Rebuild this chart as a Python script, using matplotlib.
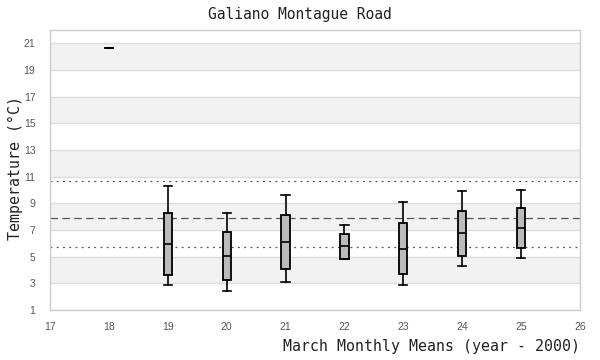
import matplotlib
matplotlib.use("Agg")
import matplotlib.pyplot as plt

# Data
years = [18, 19, 20, 21, 22, 23, 24, 25]
whislo = [20.63, 2.85, 2.40, 3.08, 4.80, 2.85, 4.28, 4.88]
q1     = [20.63, 3.60, 3.23, 4.05, 4.83, 3.68, 5.03, 5.63]
med    = [20.63, 5.93, 5.03, 6.08, 5.78, 5.55, 6.78, 7.13]
q3     = [20.63, 8.25, 6.83, 8.10, 6.68, 7.50, 8.40, 8.63]
whishi = [20.63, 10.30, 8.25, 9.60, 7.35, 9.08, 9.90, 9.98]

mean_line = 7.90
lower_line = 5.72
upper_line = 10.65

title = "Galiano Montague Road"
xlabel = "March Monthly Means (year - 2000)"
ylabel = "Temperature (\u00b0C)"
xticks = list(range(17, 27))
yticks = list(range(1, 22, 2))

fig = plt.figure(figsize=(6, 3.6), dpi=100)
ax = fig.add_axes([50/600, 1-310/360, 530/600, 280/360])

ax.set_xlim(17, 26)
ax.set_ylim(1, 22)

# alternating bands
for i, y0 in enumerate(range(1, 22, 2)):
    if i % 2 == 1:
        ax.axhspan(y0, min(y0 + 2, 22), color="#f2f2f2", zorder=0, lw=0)
for y in yticks:
    ax.axhline(y, color="#dddddd", lw=1, zorder=0.5)

ax.axhline(upper_line, color="#555555", lw=0.9, ls=(0, (1.5, 3.5)), zorder=1)
ax.axhline(lower_line, color="#555555", lw=0.9, ls=(0, (1.5, 3.5)), zorder=1)
ax.axhline(mean_line, color="#555555", lw=0.9, ls=(0, (6, 3.5)), zorder=1)

stats = []
for i in range(len(years)):
    stats.append(dict(whislo=whislo[i], q1=q1[i], med=med[i], q3=q3[i],
                      whishi=whishi[i], fliers=[]))
ax.bxp(stats, positions=years, widths=0.14, patch_artist=True,
       manage_ticks=False, showfliers=False,
       boxprops=dict(facecolor="#bbbbbb", edgecolor="black", linewidth=1.3),
       medianprops=dict(color="black", linewidth=1.2),
       whiskerprops=dict(color="black", linewidth=1.2),
       capprops=dict(color="black", linewidth=1.2),
       capwidths=0.14, zorder=3)

ax.set_xticks(xticks)
ax.set_yticks(yticks)
tickfam = ["Liberation Sans Narrow", "Liberation Sans", "DejaVu Sans"]
ax.tick_params(length=0, labelsize=7.5, labelcolor="#555555")
ax.tick_params(axis="y", pad=10.5)
ax.tick_params(axis="x", pad=9)
for lab in ax.get_xticklabels() + ax.get_yticklabels():
    lab.set_family(tickfam)

for s in ax.spines.values():
    s.set_color("#cccccc")
    s.set_linewidth(1)

mono = "DejaVu Sans Mono"
fig.text(0.5, 1-14/360, title, ha="center", va="center", family=mono,
         fontsize=10.5, color="#222222")
fig.text(580/600, 1-347/360, xlabel, ha="right", va="center", family=mono,
         fontsize=10.7, color="#222222")
fig.text(15/600, 1-168/360, ylabel, ha="center", va="center", rotation=90,
         family=mono, fontsize=10.7, color="#222222")

fig.savefig("out.png", dpi=100)
